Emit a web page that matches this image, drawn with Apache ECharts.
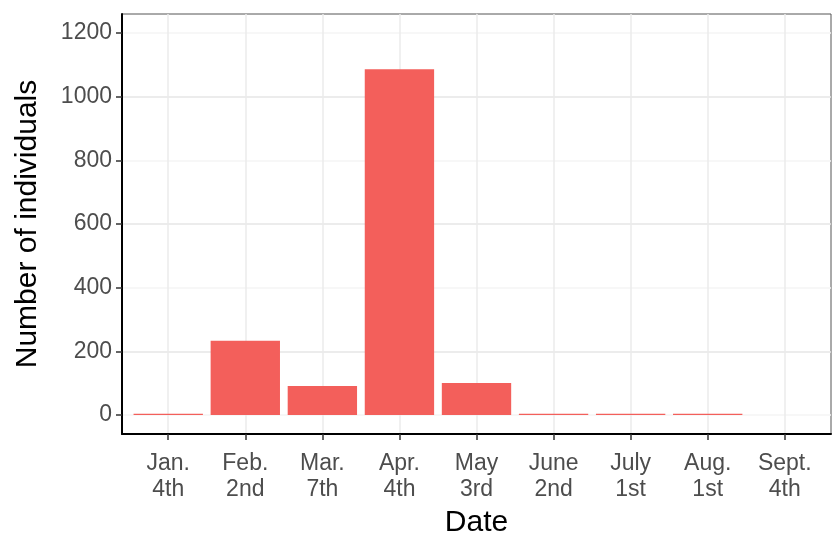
<!DOCTYPE html>
<html>
<head>
<meta charset="utf-8">
<script src="https://cdn.jsdelivr.net/npm/echarts@6/dist/echarts.min.js"></script>
<style>html,body{margin:0;padding:0;background:#fff}#c{width:833px;height:535px}</style>
</head>
<body>
<div id="c"></div>
<script>
const categories = ["Jan.\n4th","Feb.\n2nd","Mar.\n7th","Apr.\n4th","May\n3rd","June\n2nd","July\n1st","Aug.\n1st","Sept.\n4th"];
const individuals = [4, 233, 91, 1086, 100, 4, 4, 4, 0];
const yTicks = [0, 200, 400, 600, 800, 1000, 1200];

// categories are placed at positions 0..n-1 on a value axis so the
// discrete-scale padding (0.6 of a step each side) can be reproduced
const catPos = categories.map((c, i) => i);
const barData = individuals.map((v, i) => [catPos[i], v]);

const FONT = "Liberation Sans";
const chart = echarts.init(document.getElementById('c'), null, {renderer: 'canvas'});
chart.setOption({
  animation: false,
  backgroundColor: '#ffffff',
  grid: {left: 122, right: 2, top: 14, bottom: 101, show: true, borderColor: '#555555', borderWidth: 1, containLabel: false, outerBoundsMode: 'none'},
  xAxis: {
    type: 'value',
    min: -0.6,
    max: catPos.length - 1 + 0.6,
    interval: 1,
    axisLine: {show: true, onZero: false, lineStyle: {color: '#000', width: 2}},
    axisTick: {show: true, length: 6, customValues: catPos, lineStyle: {color: '#333', width: 1.5}},
    splitLine: {show: true, lineStyle: {color: '#ebebeb', width: 1.5}},
    axisLabel: {color: '#4d4d4d', fontSize: 23, fontFamily: FONT, lineHeight: 26, margin: 17, align: 'center',
      customValues: catPos, formatter: v => categories[Math.round(v)] || ''},
    name: 'Date',
    nameLocation: 'middle',
    nameGap: 72,
    nameTextStyle: {color: '#000', fontSize: 30, fontFamily: FONT}
  },
  yAxis: {
    type: 'value',
    min: -60,
    max: 1260,
    interval: 100,
    axisLine: {show: true, onZero: false, lineStyle: {color: '#000', width: 2}},
    axisTick: {show: true, length: 6, customValues: yTicks, lineStyle: {color: '#333', width: 1.5}},
    axisLabel: {color: '#4d4d4d', fontSize: 23, fontFamily: FONT, margin: 10, customValues: yTicks, formatter: v => String(v)},
    splitLine: {show: true, lineStyle: {color: ['#f4f4f4', '#e6e6e6'], width: 1.5}},
    name: 'Number of individuals',
    nameLocation: 'middle',
    nameGap: 79,
    nameTextStyle: {color: '#000', fontSize: 30, fontFamily: FONT}
  },
  series: [{
    type: 'bar',
    data: barData,
    barWidth: '90%',
    itemStyle: {color: '#F35F5B'}
  }]
});
</script>
</body>
</html>
